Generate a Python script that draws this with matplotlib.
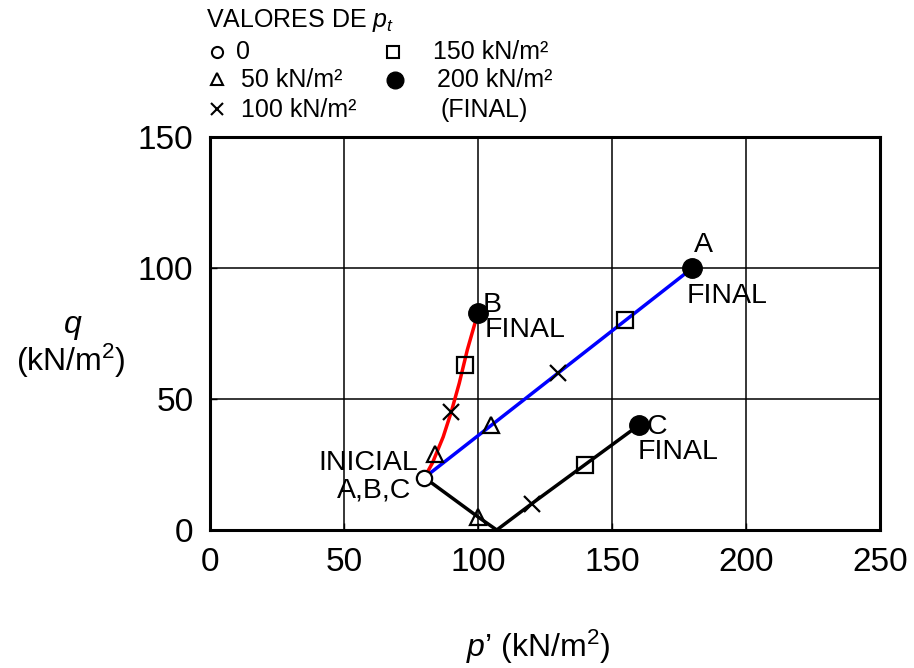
import matplotlib
matplotlib.use("Agg")
import matplotlib.pyplot as plt

plt.rcParams['font.family'] = ['Liberation Sans', 'DejaVu Sans']
plt.rcParams['mathtext.fontset'] = 'custom'
plt.rcParams['mathtext.rm'] = 'Liberation Sans'
plt.rcParams['mathtext.it'] = 'Liberation Sans:italic'

# Initial state (common to A, B, C)
p_init, q_init = 80, 20

# Path A (blue): points at pt = 0, 50, 100, 150, 200
pA = [80, 105, 130, 155, 180]
qA = [20, 40, 60, 80, 100]

# Path B (red): curve and markers
pB_curve = [80, 83, 87, 90, 93, 96, 100]
qB_curve = [20, 25.6, 35.5, 45, 56, 68.7, 83]
pB = [80, 84, 90, 95, 100]
qB = [20, 29, 45, 63, 83]

# Path C (black)
pC_line = [80, 100, 107, 120, 140, 160]
qC_line = [20, 5, 0, 10, 25, 40]
pC = [80, 100, 120, 140, 160]
qC = [20, 5, 10, 25, 40]

x_ticks = [0, 50, 100, 150, 200, 250]
y_ticks = [0, 50, 100, 150]

W, H = 914, 668
fig = plt.figure(figsize=(W / 100, H / 100), dpi=100)
ax = fig.add_axes([210 / W, 1 - 530 / H, (880 - 210) / W, (530 - 137) / H])
ax.set_xlim(0, 250)
ax.set_ylim(0, 150)
ax.set_xticks(x_ticks)
ax.set_yticks(y_ticks)
ax.grid(True, color='black', linewidth=1.1)
ax.set_axisbelow(True)
for s in ax.spines.values():
    s.set_linewidth(2.2)
ax.tick_params(direction='in', length=5, width=1, labelsize=24)
ax.tick_params(axis='y', pad=12)
ax.tick_params(axis='x', pad=12)

# Lines
ax.plot(pA, qA, color='#0000ff', lw=2.5, zorder=3)
ax.plot(pB_curve, qB_curve, color='#ff0000', lw=2.5, zorder=3)
ax.plot(pC_line, qC_line, color='black', lw=2.5, zorder=3)

# Markers per pt level (index 1..4)
marker_kw = [
    dict(marker='^', ms=11, mfc='none', mec='black', mew=1.6),
    dict(marker='x', ms=11, mec='black', mew=1.6),
    dict(marker='s', ms=11, mfc='none', mec='black', mew=1.6),
    dict(marker='o', ms=14, mfc='black', mec='black'),
]
for i, kw in enumerate(marker_kw, start=1):
    for pp, qq in ((pA, qA), (pB, qB), (pC, qC)):
        ax.plot([pp[i]], [qq[i]], ls='none', zorder=4, **kw)
ax.plot([p_init], [q_init], ls='none', marker='o', ms=11, mfc='white',
        mec='black', mew=1.6, zorder=5)

# Annotations
fs = 20.5
ax.text(184.3, 108.8, 'A', fontsize=fs, ha='center', va='center')
ax.text(178, 89.3, 'FINAL', fontsize=fs, ha='left', va='center')
ax.text(105.2, 85.9, 'B', fontsize=fs, ha='center', va='center')
ax.text(102.6, 76.3, 'FINAL', fontsize=fs, ha='left', va='center')
ax.text(166.8, 39.3, 'C', fontsize=fs, ha='center', va='center')
ax.text(159.7, 29.8, 'FINAL', fontsize=fs, ha='left', va='center')
ax.text(77.5, 25.6, 'INICIAL', fontsize=fs, ha='right', va='center')
ax.text(75.3, 14.9, 'A,B,C', fontsize=fs, ha='right', va='center')

# Axis labels
fig.text(73 / W, 1 - 327 / H, '$q$', fontsize=23, ha='center', va='center')
fig.text(71 / W, 1 - 361 / H, '(kN/m$^2$)', fontsize=23, ha='center', va='center')
fig.text(538 / W, 1 - 647 / H, '$p$’ (kN/m$^2$)', fontsize=23, ha='center', va='center')

# Legend (manual)
lfs = 18
def fx(x):
    return x / W
def fy(y):
    return 1 - y / H
fig.text(fx(206), fy(21), 'VALORES DE $p_t$', fontsize=lfs, ha='left', va='center')
leg_ax = fig.add_axes([0, 0, 1, 1], facecolor='none')
leg_ax.set_xlim(0, W)
leg_ax.set_ylim(H, 0)
leg_ax.axis('off')
leg_ax.plot([217], [52], marker='o', ms=8, mfc='none', mec='black', mew=1.5)
leg_ax.plot([217], [79], marker='^', ms=9, mfc='none', mec='black', mew=1.5)
leg_ax.plot([217], [109], marker='x', ms=9, mec='black', mew=1.5)
leg_ax.plot([393], [52], marker='s', ms=9, mfc='none', mec='black', mew=1.5)
leg_ax.plot([395], [80], marker='o', ms=12, mfc='black', mec='black')
fig.text(fx(236), fy(52), '0', fontsize=lfs, ha='left', va='center')
fig.text(fx(241), fy(80), '50 kN/m²', fontsize=lfs, ha='left', va='center')
fig.text(fx(241), fy(110), '100 kN/m²', fontsize=lfs, ha='left', va='center')
fig.text(fx(433), fy(52), '150 kN/m²', fontsize=lfs, ha='left', va='center')
fig.text(fx(437), fy(80), '200 kN/m²', fontsize=lfs, ha='left', va='center')
fig.text(fx(440), fy(110), '(FINAL)', fontsize=lfs, ha='left', va='center')

fig.savefig('out.png', dpi=100)
